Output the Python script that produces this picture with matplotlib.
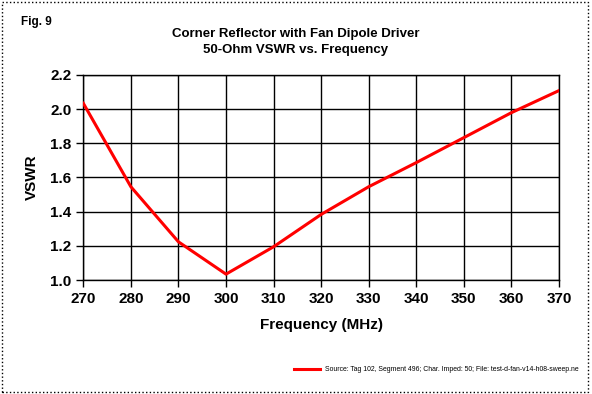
import matplotlib.pyplot as plt
from matplotlib.patches import Rectangle
from matplotlib.lines import Line2D

plt.rcParams['font.family'] = ['Liberation Sans', 'DejaVu Sans']

# data
freq = [270, 280, 290, 300, 310, 320, 330, 340, 350, 360, 370]
vswr = [2.034, 1.546, 1.224, 1.035, 1.195, 1.384, 1.546, 1.687, 1.833, 1.979, 2.108]
x_ticks = [270, 280, 290, 300, 310, 320, 330, 340, 350, 360, 370]
y_ticks = [1.0, 1.2, 1.4, 1.6, 1.8, 2.0, 2.2]
legend_text = 'Source: Tag 102, Segment 496; Char. Imped: 50; File: test-d-fan-v14-h08-sweep.ne'

fig = plt.figure(figsize=(5.92, 3.94), dpi=100)
ax = fig.add_axes([0.1407, 0.289, 0.8035, 0.521])

ax.plot(freq, vswr, color='#ff0000', linewidth=2.2, zorder=3)

ax.set_xlim(270, 370)
ax.set_ylim(1.0, 2.2)
ax.set_xticks(x_ticks)
ax.set_yticks(y_ticks)
ax.set_yticklabels(['%.1f' % v for v in y_ticks])
ax.grid(True, color='black', linewidth=1.0)
ax.tick_params(direction='out', length=5, width=1, labelsize=11, color='black')
for lab in ax.get_xticklabels() + ax.get_yticklabels():
    lab.set_fontweight('bold')
for s in ax.spines.values():
    s.set_linewidth(1.0)

ax.set_xlabel('Frequency (MHz)', fontsize=11, fontweight='bold', labelpad=9)
ax.set_ylabel('VSWR', fontsize=11, fontweight='bold', labelpad=8)

fig.text(0.5, 0.894, 'Corner Reflector with Fan Dipole Driver\n50-Ohm VSWR vs. Frequency',
         ha='center', va='center', fontsize=9.5, fontweight='bold', linespacing=1.45)
fig.text(0.035, 0.945, 'Fig. 9', fontsize=8.5, fontweight='bold', va='center')

# legend at bottom
fig.add_artist(Line2D([0.497, 0.54], [0.063, 0.063], color='#ff0000', linewidth=2.2))
fig.text(0.549, 0.063, legend_text, fontsize=4.95, va='center', ha='left')

# dotted border around figure
fig.add_artist(Rectangle((0.004, 0.005), 0.99, 0.99, fill=False, linestyle=':',
                         linewidth=1.0, edgecolor='black', transform=fig.transFigure))

fig.savefig('out.png', dpi=100)
